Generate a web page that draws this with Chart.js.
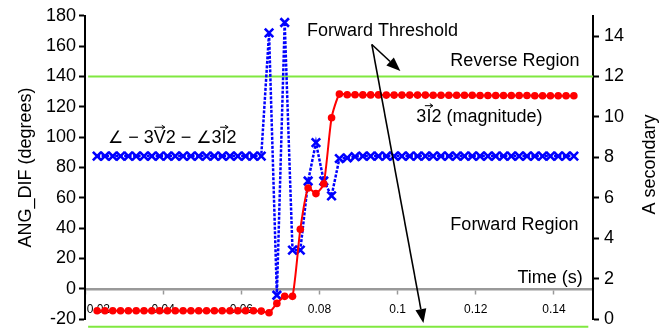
<!DOCTYPE html>
<html>
<head>
<meta charset="utf-8">
<script src="https://cdn.jsdelivr.net/npm/chart.js@4"></script>
<style>
html,body{margin:0;padding:0;background:#fff;}
#wrap{width:670px;height:335px;}
</style>
</head>
<body>
<div id="wrap"><canvas id="c" width="670" height="335"></canvas></div>
<script>
// ---- data ----
const times = [
  0.0231, 0.0251, 0.0271, 0.0291, 0.0311, 0.0331, 0.0351, 0.0371, 0.0391, 0.0411,
  0.0431, 0.0451, 0.0471, 0.0491, 0.0511, 0.0531, 0.0551, 0.0571, 0.0591, 0.0611,
  0.0631, 0.0651, 0.0671, 0.0691, 0.0711, 0.0731, 0.0751, 0.0771, 0.0791, 0.0811,
  0.0831, 0.0851, 0.0871, 0.0891, 0.0911, 0.0931, 0.0951, 0.0971, 0.0991, 0.1011,
  0.1031, 0.1051, 0.1071, 0.1091, 0.1111, 0.1131, 0.1151, 0.1171, 0.1191, 0.1211,
  0.1231, 0.1251, 0.1271, 0.1291, 0.1311, 0.1331, 0.1351, 0.1371, 0.1391, 0.1411,
  0.1431, 0.1451
];
// ANG_DIF (degrees), left axis
const angDif = [
  87.5, 87.5, 87.5, 87.5, 87.5, 87.5, 87.5, 87.5, 87.5, 87.5,
  87.5, 87.5, 87.5, 87.5, 87.5, 87.5, 87.5, 87.5, 87.5, 87.5,
  87.5, 87.5, 168.7, -4.2, 175.6, 25.5, 25.5, 71.1, 96.4, 71.1,
  61.3, 85.9, 86.3, 87.2, 87.5, 87.5, 87.5, 87.5, 87.5, 87.5,
  87.5, 87.5, 87.5, 87.5, 87.5, 87.5, 87.5, 87.5, 87.5, 87.5,
  87.5, 87.5, 87.5, 87.5, 87.5, 87.5, 87.5, 87.5, 87.5, 87.5,
  87.5, 87.5
];
// 3I2 magnitude (A secondary), right axis
const i2Mag = [
  0.42, 0.42, 0.42, 0.42, 0.42, 0.42, 0.42, 0.42, 0.42, 0.42,
  0.42, 0.42, 0.42, 0.42, 0.42, 0.42, 0.42, 0.42, 0.42, 0.42,
  0.42, 0.40, 0.32, 0.78, 1.13, 1.13, 4.45, 6.49, 6.21, 6.70,
  9.96, 11.13, 11.10, 11.10, 11.09, 11.09, 11.09, 11.08, 11.08, 11.08,
  11.08, 11.08, 11.08, 11.07, 11.07, 11.07, 11.07, 11.07, 11.07, 11.06,
  11.06, 11.06, 11.06, 11.06, 11.06, 11.06, 11.05, 11.05, 11.05, 11.05,
  11.05, 11.05
];
const xTickLabels = ['0.02', '0.04', '0.06', '0.08', '0.1', '0.12', '0.14'];
// threshold lines (degrees on the left axis) and their time spans
const reverseThreshold = [[0.0208, 140], [0.15, 140]];
const forwardThreshold = [[0.0208, -25], [0.1488, -25]];

// ---- annotations (data coordinates: time, degrees) ----
// segments: plain text, 'arrow' = vector arrow drawn above the letter, 'sym' = symbol font
const labels = [
  {segs: [{t: 'Forward Threshold'}], t: 0.0768, v: 166.5, align: 'left'},
  {segs: [{t: 'Reverse Region'}], t: 0.1135, v: 147.0, align: 'left'},
  {segs: [{t: '3'}, {t: 'I', arrow: true}, {t: '2 (magnitude)'}], t: 0.1048, v: 110.2, align: 'left'},
  {segs: [{t: '\u2220', sym: true}, {t: ' \u2212 3'}, {t: 'V', arrow: true}, {t: '2 \u2212 '}, {t: '\u2220', sym: true}, {t: '3'}, {t: 'I', arrow: true}, {t: '2'}], t: 0.0259, v: 96.0, align: 'left'},
  {segs: [{t: 'Forward Region'}], t: 0.1135, v: 39.1, align: 'left'},
  {segs: [{t: 'Time (s)'}], t: 0.1474, v: 3.9, align: 'right'}
];
const arrowStart = [0.0934, 161.1];
const arrowTips = [[0.1007, 143.6], [0.1066, -22.5]];

const FONT = '"Liberation Sans", Arial, Helvetica, sans-serif';
const SYMFONT = '"DejaVu Sans", "Liberation Sans", sans-serif';
const GREEN = '#80E840';

function segFont(s) { return s.sym ? '17px ' + SYMFONT : '18px ' + FONT; }

function drawRich(ctx, segs, x, y, align) {
  let total = 0;
  segs.forEach(s => { ctx.font = segFont(s); total += ctx.measureText(s.t).width; });
  let cx = align === 'right' ? x - total : x;
  ctx.textAlign = 'left';
  segs.forEach(s => {
    ctx.font = segFont(s);
    const w = ctx.measureText(s.t).width;
    ctx.fillText(s.t, cx, y);
    if (s.arrow) {
      const mid = cx + w / 2;
      const len = Math.max(w - 2, 8);
      const x0 = mid - len / 2, x1 = mid + len / 2;
      const ay = y - 16;
      ctx.save();
      ctx.lineWidth = 1;
      ctx.beginPath();
      ctx.moveTo(x0, ay);
      ctx.lineTo(x1, ay);
      ctx.moveTo(x1 - 3, ay - 2);
      ctx.lineTo(x1, ay);
      ctx.lineTo(x1 - 3, ay + 2);
      ctx.stroke();
      ctx.restore();
    }
    cx += w;
  });
}

const annotPlugin = {
  id: 'annot',
  afterDatasetsDraw(chart) {
    const {ctx} = chart;
    const xs = chart.scales.x, ys = chart.scales.y;
    ctx.save();
    ctx.fillStyle = '#000';
    ctx.strokeStyle = '#000';
    ctx.textBaseline = 'alphabetic';
    labels.forEach(l => {
      drawRich(ctx, l.segs, xs.getPixelForValue(l.t), ys.getPixelForValue(l.v), l.align);
    });
    // arrows
    const sx = xs.getPixelForValue(arrowStart[0]), sy = ys.getPixelForValue(arrowStart[1]);
    ctx.lineWidth = 1.6;
    arrowTips.forEach(tp => {
      const tx = xs.getPixelForValue(tp[0]), ty = ys.getPixelForValue(tp[1]);
      const ang = Math.atan2(ty - sy, tx - sx);
      const hl = 14, hw = 5.5;
      const bx = tx - hl * Math.cos(ang), by = ty - hl * Math.sin(ang);
      ctx.beginPath();
      ctx.moveTo(sx, sy);
      ctx.lineTo(bx, by);
      ctx.stroke();
      ctx.beginPath();
      ctx.moveTo(tx, ty);
      ctx.lineTo(bx + hw * Math.sin(ang), by - hw * Math.cos(ang));
      ctx.lineTo(bx - hw * Math.sin(ang), by + hw * Math.cos(ang));
      ctx.closePath();
      ctx.fill();
    });
    // right axis title (reads bottom-to-top)
    const ca = chart.chartArea;
    ctx.save();
    ctx.font = '18px ' + FONT;
    ctx.translate(650, (ca.top + ca.bottom) / 2 - 3);
    ctx.rotate(-Math.PI / 2);
    ctx.textAlign = 'center';
    ctx.textBaseline = 'middle';
    ctx.fillText('A secondary', 0, 0);
    ctx.restore();
    ctx.restore();
  }
};

const toXY = (ys) => times.map((t, i) => ({x: t, y: ys[i]}));

new Chart(document.getElementById('c'), {
  type: 'line',
  data: {
    datasets: [
      {
        label: '3I2 (magnitude)',
        data: toXY(i2Mag),
        yAxisID: 'y1',
        borderColor: '#FF0000',
        backgroundColor: '#FF0000',
        borderWidth: 2,
        pointStyle: 'circle',
        pointRadius: 3.8,
        pointBorderWidth: 0,
        tension: 0.2
      },
      {
        label: 'ANG_DIF',
        data: toXY(angDif),
        yAxisID: 'y',
        borderColor: '#0000FF',
        backgroundColor: '#0000FF',
        borderWidth: 2.5,
        borderDash: [3, 1.5],
        pointStyle: 'crossRot',
        pointRadius: 6,
        pointBorderWidth: 2.6,
        pointBorderColor: '#0000FF',
        tension: 0
      },
      {
        label: 'Reverse threshold',
        data: reverseThreshold.map(p => ({x: p[0], y: p[1]})),
        yAxisID: 'y',
        borderColor: GREEN,
        borderWidth: 2,
        pointRadius: 0
      },
      {
        label: 'Forward threshold',
        data: forwardThreshold.map(p => ({x: p[0], y: p[1]})),
        yAxisID: 'y',
        borderColor: GREEN,
        borderWidth: 2,
        pointRadius: 0,
        clip: false
      }
    ]
  },
  options: {
    responsive: false,
    animation: false,
    devicePixelRatio: 1,
    layout: {padding: {top: 15, bottom: 13, left: 0, right: 0}},
    plugins: {legend: {display: false}, tooltip: {enabled: false}},
    scales: {
      x: {
        type: 'linear',
        min: 0.02,
        max: 0.15,
        position: {y: 0},
        afterFit: s => { s.height = 0; },
        border: {color: '#999999', width: 2.5},
        grid: {drawOnChartArea: false, drawTicks: true, tickLength: 4, color: '#999999', tickWidth: 1.5},
        ticks: {
          stepSize: 0.02,
          includeBounds: false,
          autoSkip: false,
          maxRotation: 0,
          minRotation: 0,
          padding: 10,
          color: '#000',
          font: {size: 12, family: FONT},
          callback: (v, i) => (i === 0 ? '\u2007\u2007\u2007\u2007' : '') + xTickLabels[i]
        }
      },
      y: {
        type: 'linear',
        position: 'left',
        min: -20,
        max: 180,
        afterFit: s => { s.width = 85; },
        border: {color: '#000', width: 2},
        grid: {drawOnChartArea: false, drawTicks: true, tickLength: 6, color: '#000', tickWidth: 2},
        ticks: {stepSize: 20, padding: 3, color: '#000', font: {size: 18, family: FONT}},
        title: {display: true, text: 'ANG_DIF (degrees)', color: '#000', font: {size: 18, family: FONT}, padding: {top: 15, bottom: 0}}
      },
      y1: {
        type: 'linear',
        position: 'right',
        min: 0,
        max: 15,
        afterFit: s => { s.width = 77; },
        border: {color: '#000', width: 2},
        grid: {drawOnChartArea: false, drawTicks: true, tickLength: 6, color: '#000', tickWidth: 2},
        ticks: {stepSize: 2, includeBounds: false, padding: 5, color: '#000', font: {size: 18, family: FONT}}
      }
    }
  },
  plugins: [annotPlugin]
});
</script>
</body>
</html>
